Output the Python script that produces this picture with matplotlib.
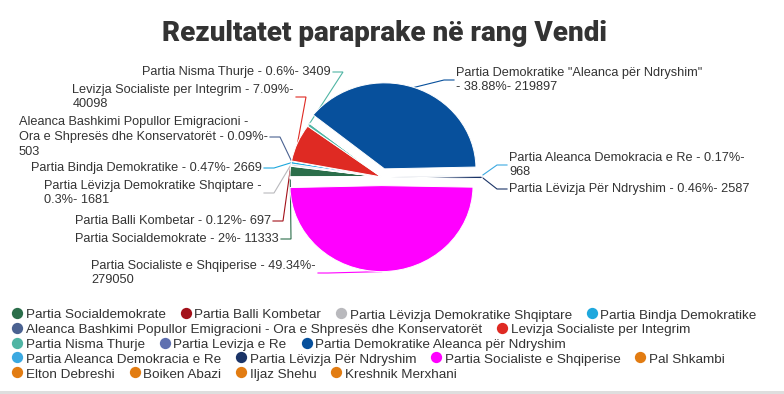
import textwrap
import matplotlib
matplotlib.use("Agg")
import matplotlib.pyplot as plt
from matplotlib.patches import Rectangle
import numpy as np

# ---------------- data ----------------
title = "Rezultatet paraprake në rang Vendi"

parties = [
    "Partia Socialdemokrate", "Partia Balli Kombetar",
    "Partia Lëvizja Demokratike Shqiptare", "Partia Bindja Demokratike",
    "Aleanca Bashkimi Popullor Emigracioni - Ora e Shpresës dhe Konservatorët",
    "Levizja Socialiste per Integrim", "Partia Nisma Thurje", "Partia Levizja e Re",
    "Partia Demokratike Aleanca për Ndryshim", "Partia Aleanca Demokracia e Re",
    "Partia Lëvizja Për Ndryshim", "Partia Socialiste e Shqiperise", "Pal Shkambi",
    "Elton Debreshi", "Boiken Abazi", "Iljaz Shehu", "Kreshnik Merxhani",
]
label_names = [
    "Partia Socialdemokrate", "Partia Balli Kombetar",
    "Partia Lëvizja Demokratike Shqiptare", "Partia Bindja Demokratike",
    "Aleanca Bashkimi Popullor Emigracioni - Ora e Shpresës dhe Konservatorët",
    "Levizja Socialiste per Integrim", "Partia Nisma Thurje", None,
    'Partia Demokratike "Aleanca për Ndryshim"', "Partia Aleanca Demokracia e Re",
    "Partia Lëvizja Për Ndryshim", "Partia Socialiste e Shqiperise", None,
    None, None, None, None,
]
votes = [11333, 697, 1681, 2669, 503, 40098, 3409, 600, 219897, 968, 2587,
         279050, 700, 450, 420, 300, 210]
percents = [2, 0.12, 0.3, 0.47, 0.09, 7.09, 0.6, None, 38.88, 0.17, 0.46,
            49.34, None, None, None, None, None]
colors = ["#2b6e4a", "#a3111a", "#b9b9bd", "#1fa8dd", "#4b6291", "#df2a23",
          "#50b5a4", "#5f70b0", "#07509c", "#3ba9e1", "#1b3467", "#ff00ff",
          "#e27c12", "#e27c12", "#e27c12", "#e27c12", "#e27c12"]
sliced = ["Partia Demokratike Aleanca për Ndryshim", "Partia Aleanca Demokracia e Re",
          "Partia Lëvizja Për Ndryshim", "Partia Socialiste e Shqiperise"]

# ---------------- layout ----------------
W, H = 784, 394
fig = plt.figure(figsize=(W / 100, H / 100), dpi=100)
ov = fig.add_axes([0, 0, 1, 1])
ov.set_xlim(0, W)
ov.set_ylim(H, 0)
ov.axis("off")

TEXT = "#333333"
FONT = ["Liberation Sans", "DejaVu Sans"]

ov.text(385, 41, title, ha="center", va="baseline", fontsize=20, fontweight="black",
        family=["Roboto", "DejaVu Sans"], color=TEXT)

# pie (slightly elliptical like the reference)
cx, cy, rx, ry, R = 381.5, 177, 91.5, 86, 100
axp = fig.add_axes([(cx - R) / W, (H - cy - R) / H, 2 * R / W, 2 * R / H])
explode = [0.1 if p in sliced else 0 for p in parties]
wedges, _ = axp.pie(votes, colors=colors, startangle=180, counterclock=False,
                    explode=explode,
                    wedgeprops=dict(edgecolor="white", linewidth=0.7))
axp.set_aspect("auto")
axp.set_xlim(-R / rx, R / rx)
axp.set_ylim(-R / ry, R / ry)
axp.axis("off")
axp.patch.set_visible(False)

# data labels (anchor x, block centre y, side)
label_layout = {
    0: ("left", 279, 239), 1: ("left", 271, 221), 2: ("left", 262, 193),
    3: ("left", 262, 168), 4: ("left", 268, 137), 5: ("left", 294, 97),
    6: ("left", 331, 72), 8: ("right", 456, 80), 9: ("right", 509, 165),
    10: ("right", 509, 189), 11: ("left", 316, 273),
}

inv = ov.transData.inverted()
for i, (side, lx, ly) in label_layout.items():
    txt = f"{label_names[i]} - {percents[i]:g}%- {votes[i]}"
    txt = "\n".join(textwrap.wrap(txt, 41))
    ov.text(lx, ly, txt, ha="right" if side == "left" else "left", va="center",
            multialignment="left", fontsize=9.2, family=FONT, color=TEXT,
            linespacing=1.32)
    w = wedges[i]
    th = np.deg2rad((w.theta1 + w.theta2) / 2)
    px, py = inv.transform(axp.transData.transform(
        (w.center[0] + w.r * np.cos(th), w.center[1] + w.r * np.sin(th))))
    sgn = 1 if side == "left" else -1
    ov.plot([lx + 2 * sgn, lx + 12 * sgn, px], [ly, ly, py], color=colors[i],
            lw=0.8, solid_joinstyle="miter")

# legend (flow layout)
renderer = fig.canvas.get_renderer()
x0, y0, dy, maxx = 12.5, 313, 14.8, 774
x, row = x0, 0
for name, col in zip(parties, colors):
    t = ov.text(0, 0, name, ha="left", va="center_baseline", fontsize=9.7,
                family=FONT, color=TEXT)
    tw = t.get_window_extent(renderer).width
    if x + 13.5 + tw > maxx and x > x0:
        row += 1
        x = x0
    y = y0 + row * dy
    ov.scatter([x + 5], [y], s=66, color=col, linewidths=0)
    t.set_position((x + 13.5, y + 1))
    x = x + 13.5 + tw + 15

ov.add_patch(Rectangle((0, 391), W, 3, color="#dedede", lw=0))

fig.savefig("out.png", dpi=100)
